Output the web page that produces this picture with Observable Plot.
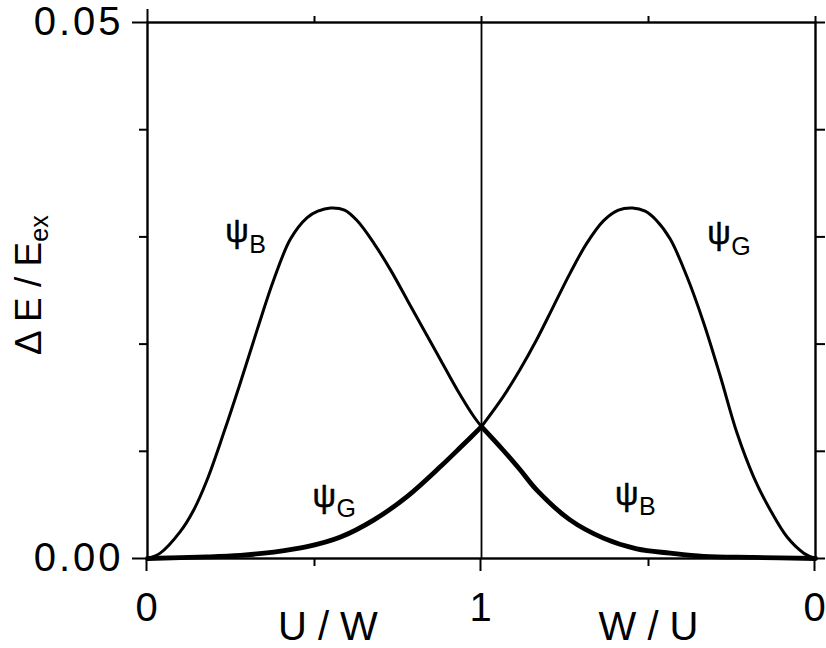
<!DOCTYPE html>
<html>
<head>
<meta charset="utf-8">
<script src="https://cdn.jsdelivr.net/npm/d3@7"></script>
<script src="https://cdn.jsdelivr.net/npm/@observablehq/plot@0.6"></script>
<style>
  html, body { margin: 0; padding: 0; background: #fff; }
  g[aria-label="y-axis tick label"] text { letter-spacing: 3px; }
</style>
</head>
<body>
<div id="chart"></div>
<script>
// ---- tick values and labels ----
const xTicksMajor = [0, 1, 2];
const xTickLabels = ["0", "1", "0"];
const xTicksMinor = [0.5, 1.5];
const yTicksMajor = [0, 0.05];
const yTickLabels = ["0.00", "0.05"];
const yTicksMinor = [0.01, 0.02, 0.03, 0.04];
const xAxisTitles = ["U / W", "W / U"];
const xAxisTitlePos = [0.54, 1.5];
const yTitleMain = "Δ E / E";
const yTitleSub = "ex";

// ---- left half (U/W): thin psi_B curve ----
const leftThinX = [0, 0.038, 0.098, 0.138, 0.178, 0.228, 0.278, 0.328, 0.378, 0.428, 0.478, 0.51, 0.548, 0.59, 0.628, 0.678, 0.728, 0.778, 0.828, 0.878, 0.928, 0.978, 1.0];
const leftThinY = [0, 0.0005, 0.0025, 0.0045, 0.0073, 0.0117, 0.0164, 0.0213, 0.026, 0.0298, 0.0318, 0.0324, 0.0327, 0.0325, 0.0315, 0.0294, 0.0269, 0.0241, 0.0213, 0.0185, 0.0157, 0.0132, 0.0123];
// ---- left half: bold psi_G curve ----
const leftBoldX = [0, 0.178, 0.278, 0.378, 0.478, 0.578, 0.678, 0.778, 0.878, 0.938, 1.0];
const leftBoldY = [0, 0.00015, 0.0003, 0.0006, 0.0011, 0.002, 0.0036, 0.0058, 0.0086, 0.0104, 0.0123];
// ---- right half (W/U): thin psi_G curve ----
const rightThinX = [1.0, 1.065, 1.115, 1.165, 1.215, 1.265, 1.315, 1.365, 1.41, 1.452, 1.49, 1.522, 1.565, 1.615, 1.665, 1.715, 1.765, 1.815, 1.865, 1.915, 1.965, 2.0];
const rightThinY = [0.0123, 0.0151, 0.0176, 0.0204, 0.0235, 0.0266, 0.0294, 0.0315, 0.0325, 0.0327, 0.0324, 0.0316, 0.0298, 0.0263, 0.022, 0.017, 0.0117, 0.0076, 0.0045, 0.002, 0.0005, 0];
// ---- right half: bold psi_B curve ----
const rightBoldX = [1.0, 1.065, 1.115, 1.165, 1.265, 1.365, 1.465, 1.565, 1.665, 1.815, 2.0];
const rightBoldY = [0.0123, 0.0101, 0.0083, 0.0064, 0.0036, 0.0019, 0.0009, 0.0005, 0.0002, 0.0001, 0];

// ---- curve labels ----
const curveSymbols = ["ψ", "ψ", "ψ", "ψ"];
const curveSubs = ["B", "G", "G", "B"];
const curveLabelX = [0.233, 0.494, 1.676, 1.400];
const curveLabelY = [0.0305, 0.0058, 0.0303, 0.0060];

const zip = (xs, ys) => xs.map((x, i) => ({x, y: ys[i]}));
const thin = [zip(leftThinX, leftThinY), zip(rightThinX, rightThinY)];
const bold = [zip(leftBoldX, leftBoldY), zip(rightBoldX, rightBoldY)];
const labels = curveSymbols.map((s, i) => ({s, sub: curveSubs[i], x: curveLabelX[i], y: curveLabelY[i]}));

const font = "'Liberation Sans', Arial, Helvetica, sans-serif";

const chart = Plot.plot({
  width: 826,
  height: 648,
  marginLeft: 147,
  marginRight: 11,
  marginTop: 22,
  marginBottom: 90,
  style: {fontFamily: font, color: "#000", background: "#fff", overflow: "visible"},
  x: {domain: [0, 2]},
  y: {domain: [0, 0.05]},
  marks: [
    // left axis
    Plot.axisY(yTicksMajor, {anchor: "left", tickSize: 15, tickPadding: 9, strokeWidth: 2, fontSize: 40,
      tickFormat: (d, i) => yTickLabels[i], label: null}),
    Plot.axisY(yTicksMinor, {anchor: "left", tickSize: 8, strokeWidth: 2, tickFormat: () => "", label: null}),
    // right axis
    Plot.axisY([...yTicksMajor, ...yTicksMinor], {anchor: "right", tickSize: 9, strokeWidth: 2, tickFormat: () => "", label: null}),
    // bottom axis
    Plot.axisX(xTicksMajor, {anchor: "bottom", tickSize: 13, tickPadding: 21, strokeWidth: 2, fontSize: 40,
      tickFormat: (d, i) => xTickLabels[i], label: null, dx: -1}),
    Plot.axisX(xTicksMinor, {anchor: "bottom", tickSize: 8, strokeWidth: 2, tickFormat: () => "", label: null}),
    // top axis
    Plot.axisX([0], {anchor: "top", tickSize: 14, strokeWidth: 2, tickFormat: () => "", label: null}),
    Plot.axisX([0.5, 1, 1.5, 2], {anchor: "top", tickSize: 7, strokeWidth: 2, tickFormat: () => "", label: null}),
    Plot.frame({stroke: "#000", strokeWidth: 2.4}),
    Plot.ruleX([1], {stroke: "#000", strokeWidth: 1.8}),
    // curves
    ...thin.map(seg => Plot.line(seg, {x: "x", y: "y", stroke: "#000", strokeWidth: 3, curve: "catmull-rom"})),
    ...bold.map(seg => Plot.line(seg, {x: "x", y: "y", stroke: "#000", strokeWidth: 4.8, curve: "catmull-rom"})),
    // curve labels
    Plot.text(labels, {x: "x", y: "y", text: "s", textAnchor: "start", fontSize: 33, fill: "#000",
      stroke: "#000", strokeWidth: 0.5}),
    Plot.text(labels, {x: "x", y: "y", text: "sub", textAnchor: "start", fontSize: 25, dx: 24, dy: 13, fill: "#000"}),
    // x axis titles
    Plot.text(xAxisTitles, {x: (d, i) => xAxisTitlePos[i], text: d => d, frameAnchor: "bottom", dy: 69,
      fontSize: 40, fill: "#000", lineAnchor: "middle"}),
    // y axis title (subscript appended below)
    Plot.text([yTitleMain], {y: 0.0255, frameAnchor: "left", dx: -118, rotate: -90, text: d => d,
      fontSize: 37, fill: "#000", lineAnchor: "middle", textAnchor: "middle"})
  ]
});
d3.select(chart).selectAll("text")
  .filter(function () { return this.textContent === yTitleMain; })
  .append("tspan").attr("dy", 7).attr("font-size", 25).text(yTitleSub);
document.getElementById("chart").appendChild(chart);
</script>
</body>
</html>
